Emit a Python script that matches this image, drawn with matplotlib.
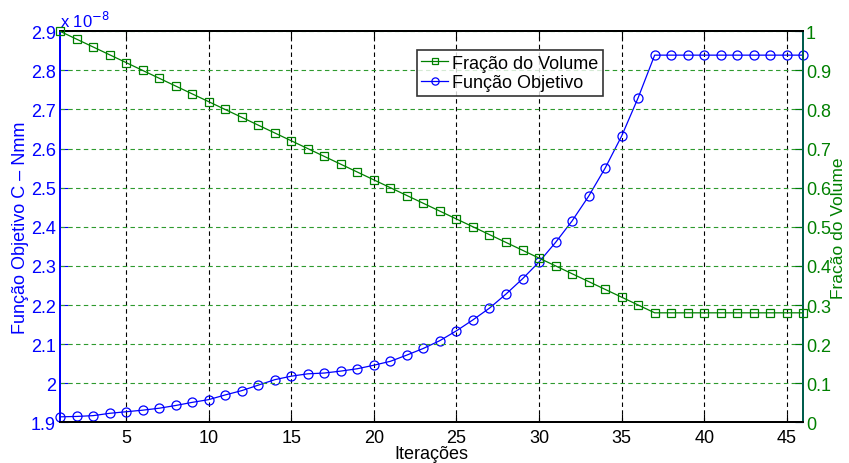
import matplotlib
matplotlib.use("Agg")
import matplotlib.pyplot as plt
import matplotlib.transforms as mtransforms
from matplotlib.ticker import FuncFormatter, MultipleLocator

plt.rcParams['font.family'] = ['Liberation Sans', 'DejaVu Sans']

# Optimisation history
iterations = list(range(1, 47))
objective = [1.914e-8, 1.915e-8, 1.917e-8, 1.923e-8, 1.927e-8, 1.931e-8, 1.936e-8, 1.943e-8,
             1.951e-8, 1.958e-8, 1.970e-8, 1.981e-8, 1.995e-8, 2.009e-8, 2.018e-8, 2.024e-8,
             2.026e-8, 2.031e-8, 2.037e-8, 2.046e-8, 2.056e-8, 2.072e-8, 2.089e-8, 2.109e-8,
             2.134e-8, 2.162e-8, 2.192e-8, 2.228e-8, 2.267e-8, 2.310e-8, 2.360e-8, 2.415e-8,
             2.478e-8, 2.550e-8, 2.632e-8, 2.730e-8, 2.839e-8, 2.839e-8, 2.839e-8, 2.839e-8,
             2.839e-8, 2.839e-8, 2.839e-8, 2.839e-8, 2.839e-8, 2.839e-8]
volume_fraction = [1.00, 0.98, 0.96, 0.94, 0.92, 0.90, 0.88, 0.86, 0.84, 0.82,
                   0.80, 0.78, 0.76, 0.74, 0.72, 0.70, 0.68, 0.66, 0.64, 0.62,
                   0.60, 0.58, 0.56, 0.54, 0.52, 0.50, 0.48, 0.46, 0.44, 0.42,
                   0.40, 0.38, 0.36, 0.34, 0.32, 0.30, 0.28, 0.28, 0.28, 0.28,
                   0.28, 0.28, 0.28, 0.28, 0.28, 0.28]
x_ticks = [5, 10, 15, 20, 25, 30, 35, 40, 45]

BLUE = '#0000ff'
GREEN = '#008000'
GRID_GREEN = '#2e9a2e'
SCALE = 1e-8
FS = 13


def short(v):
    return f"{v:.1f}".rstrip('0').rstrip('.')


fig = plt.figure(figsize=(8.49, 4.64), dpi=100)
ax = fig.add_axes([0.0707, 0.0877, 0.8755, 0.8427])
ax2 = ax.twinx()

# Objective function (left axis)
l1, = ax.plot(iterations, objective, color=BLUE, lw=0.9, marker='o', ms=6.5,
              mfc='none', mec=BLUE, mew=0.9, label='Função Objetivo', zorder=3,
              clip_on=False)
ax.set_xlim(1, 46)
ax.set_ylim(1.9e-8, 2.9e-8)
ax.yaxis.set_major_locator(MultipleLocator(0.1e-8))
ax.yaxis.set_major_formatter(FuncFormatter(lambda v, p: short(v / SCALE)))
ax.set_xticks(x_ticks)
ax.tick_params(axis='x', direction='in', labelsize=FS, colors='black', length=6,
               top=True, pad=5)
ax.tick_params(axis='y', direction='in', labelsize=FS, colors=BLUE, length=6,
               right=True, pad=3)
ax.set_ylabel('Função Objetivo C – Nmm', color=BLUE, fontsize=FS, labelpad=1)
ax.set_xlabel('Iterações', fontsize=FS, labelpad=-1)
ax.xaxis.grid(True, color='black', ls=(0, (4, 3)), lw=0.8)

# Scale factor written just above the top-left corner of the axes
offset = mtransforms.ScaledTranslation(0, 4 / 100, fig.dpi_scale_trans)
ax.text(0.0, 1.0, r'x 10$^{-8}$', transform=ax.transAxes + offset,
        color=BLUE, fontsize=12, ha='left', va='baseline')

# Volume fraction (right axis)
l2, = ax2.plot(iterations, volume_fraction, color=GREEN, lw=0.9, marker='s', ms=6,
               mfc='none', mec=GREEN, mew=0.9, label='Fração do Volume', zorder=3,
               clip_on=False)
ax2.set_ylim(0, 1)
ax2.yaxis.set_major_locator(MultipleLocator(0.1))
ax2.yaxis.set_major_formatter(FuncFormatter(lambda v, p: short(v)))
ax2.tick_params(axis='y', direction='in', labelsize=FS, colors=GREEN, length=6, pad=2)
ax2.set_ylabel('Fracão do Volume', color=GREEN, fontsize=12.5, labelpad=0)
ax2.yaxis.grid(True, color=GRID_GREEN, ls=(0, (4, 3)), lw=0.8)

# No automatic offset labels; the scale factor is written by hand above
for a in (ax, ax2):
    a.xaxis.get_offset_text().set_visible(False)
    a.yaxis.get_offset_text().set_visible(False)
    for s in a.spines.values():
        s.set_linewidth(1.4)
ax.spines['left'].set_color(BLUE)
ax2.spines['left'].set_color(BLUE)
ax2.spines['right'].set_color('#006050')
ax2.spines['top'].set_color('black')
ax2.spines['bottom'].set_color('black')

leg = ax2.legend(handles=[l2, l1], loc='upper left', bbox_to_anchor=(0.491, 0.890),
                 bbox_transform=fig.transFigure, fontsize=FS, frameon=True, fancybox=False,
                 edgecolor='black', borderpad=0.25, handlelength=1.5, handletextpad=0.2,
                 labelspacing=0.15, borderaxespad=0, markerscale=0.8)
leg.get_frame().set_linewidth(1.2)

fig.savefig('out.png', dpi=100)
